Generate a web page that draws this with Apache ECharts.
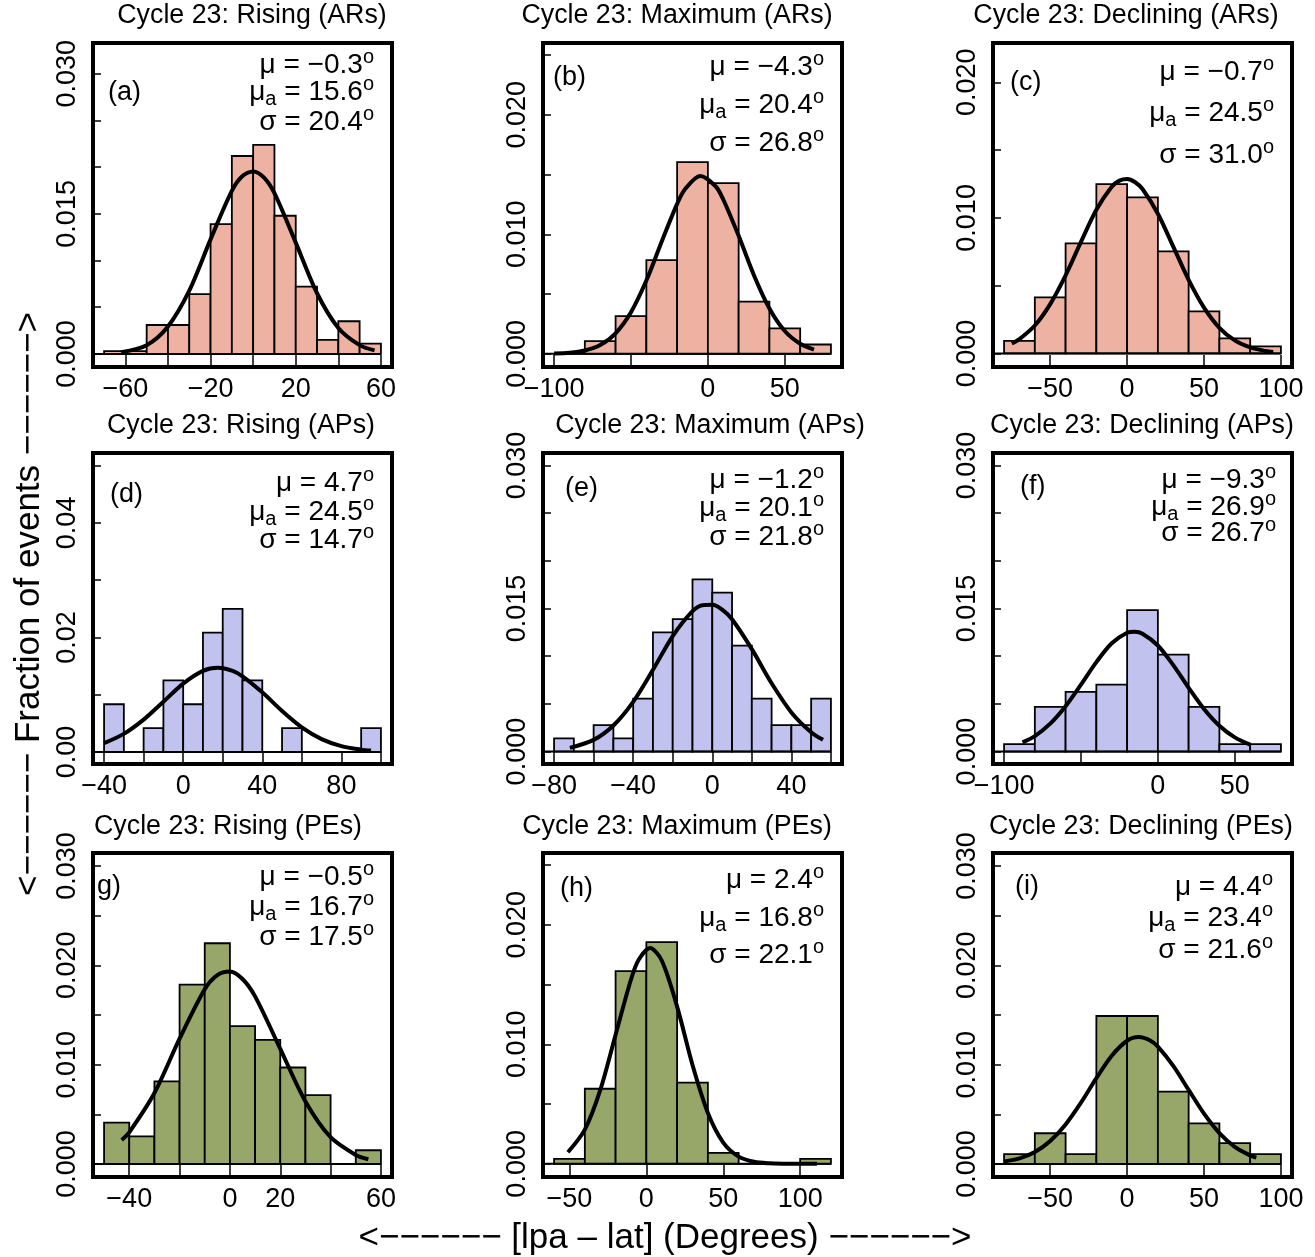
<!DOCTYPE html>
<html>
<head>
<meta charset="utf-8">
<script src="https://cdn.jsdelivr.net/npm/echarts@6/dist/echarts.min.js"></script>
<style>
  html, body { margin: 0; background: #fff; }
  #main { width: 1315px; height: 1257px; }
</style>
</head>
<body>
<div id="main"></div>
<script>
var chartDom = document.getElementById('main');
var myChart = echarts.init(chartDom);
var option;

var FONT = 'Liberation Sans, Arial, Helvetica, sans-serif';

// ---- panel texts ----
var titles = [
    'Cycle 23: Rising (ARs)', 'Cycle 23: Maximum (ARs)', 'Cycle 23: Declining (ARs)',
    'Cycle 23: Rising (APs)', 'Cycle 23: Maximum (APs)', 'Cycle 23: Declining (APs)',
    'Cycle 23: Rising (PEs)', 'Cycle 23: Maximum (PEs)', 'Cycle 23: Declining (PEs)'
];
var tags = ['(a)', '(b)', '(c)', '(d)', '(e)', '(f)', 'g)', '(h)', '(i)'];
var muVals = ['−0.3', '−4.3', '−0.7', '4.7', '−1.2', '−9.3', '−0.5', '2.4', '4.4'];
var muaVals = ['15.6', '20.4', '24.5', '24.5', '20.1', '26.9', '16.7', '16.8', '23.4'];
var sigmaVals = ['20.4', '26.8', '31.0', '14.7', '21.8', '26.7', '17.5', '22.1', '21.6'];

// ---- histogram bins (edges) and fractions ----
var edgesA = [-70, -60, -50, -40, -30, -20, -10, 0, 10, 20, 30, 40, 50, 60];
var fracA = [0.0003, 0.0003, 0.0031, 0.0031, 0.0064, 0.0139, 0.0212, 0.0224, 0.0148, 0.0072, 0.0015, 0.0035, 0.0011];
var edgesB = [-100, -80, -60, -40, -20, 0, 20, 40, 60, 80];
var fracB = [0, 0.00106, 0.00316, 0.00784, 0.01604, 0.01428, 0.00437, 0.00213, 0.00078];
var edgesC = [-80, -60, -40, -20, 0, 20, 40, 60, 80, 100];
var fracC = [0.00093, 0.00413, 0.00812, 0.01249, 0.01151, 0.00753, 0.0031, 0.00111, 0.00052];
var edgesD = [-40, -30, -20, -10, 0, 10, 20, 30, 40, 50, 60, 70, 80, 90, 100];
var fracD = [0.00833, 0, 0.00417, 0.0125, 0.00833, 0.02083, 0.025, 0.0125, 0, 0.00417, 0, 0, 0, 0.00417];
var edgesE = [-80, -70, -60, -50, -40, -30, -20, -10, 0, 10, 20, 30, 40, 50, 60];
var fracE = [0.00139, 0, 0.00278, 0.00139, 0.00556, 0.0125, 0.01389, 0.01806, 0.01667, 0.01111, 0.00556, 0.00278, 0.00278, 0.00556];
var edgesF = [-100, -80, -60, -40, -20, 0, 20, 40, 60, 80];
var fracF = [0.00078, 0.00469, 0.00625, 0.00703, 0.01484, 0.01016, 0.00469, 0.00078, 0.00078];
var edgesG = [-50, -40, -30, -20, -10, 0, 10, 20, 30, 40, 50, 60];
var fracG = [0.00417, 0.00278, 0.00833, 0.01806, 0.02222, 0.01389, 0.0125, 0.00972, 0.00694, 0, 0.00139];
var edgesH = [-60, -40, -20, 0, 20, 40, 60, 80, 100, 120];
var fracH = [0.00042, 0.00628, 0.01612, 0.01855, 0.00679, 0.00092, 0, 0, 0.00042];
var edgesI = [-80, -60, -40, -20, 0, 20, 40, 60, 80, 100];
var fracI = [0.001, 0.0031, 0.001, 0.0149, 0.0149, 0.0073, 0.0041, 0.0021, 0.001];

// ---- fitted curves ----
var curveXA = [-62, -50, -40, -30, -20, -10, -5, 0, 5, 10, 20, 30, 40, 50, 57];
var curveYA = [0.00018, 0.00094, 0.00294, 0.00678, 0.01227, 0.01747, 0.01905, 0.01955, 0.01891, 0.01722, 0.01192, 0.0065, 0.00278, 0.00094, 0.00038];
var curveXB = [-100, -90, -80, -70, -60, -50, -40, -30, -20, -15, -5, 5, 10, 20, 30, 40, 50, 60, 69];
var curveYB = [0.00003, 0.00009, 0.00028, 0.00074, 0.00172, 0.00348, 0.00613, 0.0094, 0.01254, 0.01375, 0.01488, 0.01402, 0.01291, 0.00987, 0.00656, 0.0038, 0.00191, 0.00084, 0.00035];
var curveXC = [-75, -70, -60, -50, -40, -30, -20, -10, -5, 0, 5, 10, 20, 30, 40, 50, 60, 70, 80, 90, 95];
var curveYC = [0.00073, 0.00106, 0.00206, 0.00364, 0.00576, 0.00823, 0.0106, 0.0123, 0.01275, 0.01287, 0.01265, 0.01213, 0.0103, 0.00788, 0.00543, 0.00338, 0.00189, 0.00096, 0.00044, 0.00018, 0.00011];
var curveXD = [-40, -30, -20, -10, 0, 10, 17.5, 25, 30, 40, 50, 60, 70, 80, 90, 95];
var curveYD = [0.00155, 0.00316, 0.00564, 0.00878, 0.01193, 0.01415, 0.0147, 0.01415, 0.01321, 0.01041, 0.00716, 0.0043, 0.00225, 0.00103, 0.00041, 0.00025];
var curveXE = [-72, -60, -50, -40, -30, -20, -10, -5, 0, 5, 10, 20, 30, 40, 50, 56];
var curveYE = [0.00039, 0.00123, 0.00274, 0.00522, 0.00857, 0.01211, 0.01472, 0.01535, 0.0154, 0.01489, 0.01387, 0.01074, 0.00716, 0.00411, 0.00203, 0.00123];
var curveXF = [-88, -80, -70, -60, -50, -40, -30, -20, -15, -10, 0, 10, 20, 30, 40, 50, 60];
var curveYF = [0.00097, 0.00163, 0.00293, 0.00476, 0.00702, 0.00938, 0.01135, 0.01245, 0.01256, 0.01236, 0.01112, 0.00906, 0.00669, 0.00447, 0.00271, 0.00149, 0.00074];
var curveXG = [-43, -40, -30, -20, -10, -5, 0, 5, 10, 20, 30, 40, 50, 55];
var curveYG = [0.00243, 0.0032, 0.00715, 0.01262, 0.0176, 0.01902, 0.01938, 0.01862, 0.01687, 0.0116, 0.0063, 0.0027, 0.00092, 0.00049];
var curveXH = [-51, -40, -30, -20, -10, -5, 2.4, 10, 20, 30, 40, 50, 60, 70, 80, 90, 111];
var curveYH = [0.00097, 0.00286, 0.00616, 0.0108, 0.01542, 0.01707, 0.01805, 0.01701, 0.01315, 0.00827, 0.00425, 0.00177, 0.0006, 0.00017, 0.00004, 0.00001, 0];
var curveXI = [-80, -70, -60, -50, -40, -30, -20, -10, 0, 7.6, 15, 20, 30, 40, 50, 60, 70, 80, 84];
var curveYI = [0.00026, 0.00058, 0.00122, 0.00233, 0.00399, 0.00618, 0.00864, 0.0109, 0.01241, 0.01278, 0.01243, 0.01181, 0.00988, 0.00746, 0.00508, 0.00312, 0.00173, 0.00087, 0.00064];

// ---- axis ticks and tick labels ----
var xTicksA = [-60, -40, -20, 0, 20, 40, 60], xLabelsA = [-60, -20, 20, 60];
var xTicksBF = [-100, -50, 0, 50], xLabelsBF = [-100, 0, 50];
var xTicksCHI = [-50, 0, 50, 100], xLabelsCHI = [-50, 0, 50, 100];
var xTicksD = [-40, -20, 0, 20, 40, 60, 80, 100], xLabelsD = [-40, 0, 40, 80];
var xTicksE = [-80, -60, -40, -20, 0, 20, 40, 60], xLabelsE = [-80, -40, 0, 40];
var xTicksG = [-40, -20, 0, 20, 40, 60], xLabelsG = [-40, 0, 20, 60];
var yTicks30 = [0, 0.005, 0.01, 0.015, 0.02, 0.025, 0.03];
var yTicks25 = [0, 0.005, 0.01, 0.015, 0.02, 0.025];
var yTicks20 = [0, 0.005, 0.01, 0.015, 0.02];
var yTicks05 = [0, 0.01, 0.02, 0.03, 0.04, 0.05];
var yLabels15 = [0, 0.015, 0.03];
var yLabels10 = [0, 0.01, 0.02];
var yLabels10b = [0, 0.01, 0.02, 0.03];
var yLabels20 = [0, 0.02, 0.04];

var salmon = '#EEB2A2', lavender = '#C1C2EE', olive = '#97A76A';

// layout of the nine boxes
var colLeft = [93, 543, 993];
var rowTop = [43, 453, 853];
var rowHeight = [324, 311, 324];
var boxWidth = 299;
var titleX = [252, 677, 1126, 241, 710, 1142, 228, 677, 1141];
var titleY = [16, 426, 827];
var tagPos = [[108, 93], [553, 78], [1010, 83], [110, 495], [565, 489], [1020, 487], [97, 887], [560, 889], [1015, 887]];
var annRight = [374, 824, 1274, 374, 824, 1276, 374, 824, 1273];
var annY = [[65, 92, 122], [67, 105, 143], [72, 113, 155], [483, 512, 540], [480, 508, 537],
            [480, 507, 533], [877, 907, 937], [880, 918, 955], [887, 918, 950]];

var panels = [
    { e: edgesA, f: fracA, cx: curveXA, cy: curveYA, xr: [-75.2, 65.2], yr: [-0.0014, 0.0333], xt: xTicksA, xl: xLabelsA, yt: yTicks30, yl: yLabels15, d: 3, c: salmon },
    { e: edgesB, f: fracB, cx: curveXB, cy: curveYB, xr: [-107.2, 87.2], yr: [-0.0011, 0.026], xt: xTicksBF, xl: xLabelsBF, yt: yTicks25, yl: yLabels10, d: 3, c: salmon },
    { e: edgesC, f: fracC, cx: curveXC, cy: curveYC, xr: [-87.2, 107.2], yr: [-0.001, 0.0229], xt: xTicksCHI, xl: xLabelsCHI, yt: yTicks20, yl: yLabels10, d: 3, c: salmon },
    { e: edgesD, f: fracD, cx: curveXD, cy: curveYD, xr: [-45.6, 105.6], yr: [-0.0021, 0.0522], xt: xTicksD, xl: xLabelsD, yt: yTicks05, yl: yLabels20, d: 2, c: lavender },
    { e: edgesE, f: fracE, cx: curveXE, cy: curveYE, xr: [-85.6, 65.6], yr: [-0.0013, 0.0313], xt: xTicksE, xl: xLabelsE, yt: yTicks30, yl: yLabels15, d: 3, c: lavender },
    { e: edgesF, f: fracF, cx: curveXF, cy: curveYF, xr: [-107.2, 87.2], yr: [-0.0013, 0.0313], xt: xTicksBF, xl: xLabelsBF, yt: yTicks30, yl: yLabels15, d: 3, c: lavender },
    { e: edgesG, f: fracG, cx: curveXG, cy: curveYG, xr: [-54.4, 64.4], yr: [-0.0013, 0.0313], xt: xTicksG, xl: xLabelsG, yt: yTicks30, yl: yLabels10b, d: 3, c: olive },
    { e: edgesH, f: fracH, cx: curveXH, cy: curveYH, xr: [-67.2, 127.2], yr: [-0.0011, 0.026], xt: xTicksCHI, xl: xLabelsCHI, yt: yTicks25, yl: yLabels10, d: 3, c: olive },
    { e: edgesI, f: fracI, cx: curveXI, cy: curveYI, xr: [-87.2, 107.2], yr: [-0.0013, 0.0313], xt: xTicksCHI, xl: xLabelsCHI, yt: yTicks30, yl: yLabels10b, d: 3, c: olive }
];

function minusSign(v) {
    return String(v).replace('-', '−');
}

var grids = [], xAxes = [], yAxes = [], series = [], graphics = [];

panels.forEach(function (p, i) {
    var col = i % 3, row = Math.floor(i / 3);
    grids.push({
        left: colLeft[col], top: rowTop[row], width: boxWidth, height: rowHeight[row],
        show: true, borderColor: '#000', borderWidth: 4, backgroundColor: 'transparent',
        containLabel: false, outerBoundsMode: 'none'
    });
    xAxes.push({
        gridIndex: i, type: 'value', min: p.xr[0], max: p.xr[1],
        axisLine: { show: false, onZero: false },
        axisTick: { show: true, inside: true, length: 12, customValues: p.xt, lineStyle: { color: '#000', width: 1.5 } },
        axisLabel: {
            show: true, customValues: p.xl, margin: 9, color: '#000',
            fontSize: 27, fontFamily: FONT, formatter: minusSign
        },
        splitLine: { show: false }
    });
    var dec = p.d;
    yAxes.push({
        gridIndex: i, type: 'value', min: p.yr[0], max: p.yr[1],
        axisLine: { show: false, onZero: false },
        axisTick: { show: true, inside: true, length: 8, customValues: p.yt, lineStyle: { color: '#000', width: 1.5 } },
        axisLabel: {
            show: true, customValues: p.yl, rotate: 90, margin: 12, color: '#000',
            fontSize: 27, fontFamily: FONT,
            formatter: function (v) { return Number(v).toFixed(dec); }
        },
        splitLine: { show: false }
    });

    var fill = p.c;
    series.push({
        type: 'custom', xAxisIndex: i, yAxisIndex: i, silent: true,
        data: p.f.map(function (v, k) { return [p.e[k], p.e[k + 1], v]; }),
        encode: { x: [0, 1], y: 2 },
        renderItem: function (params, api) {
            var topLeft = api.coord([api.value(0), api.value(2)]);
            var bottomRight = api.coord([api.value(1), 0]);
            return {
                type: 'rect',
                shape: { x: topLeft[0], y: topLeft[1], width: bottomRight[0] - topLeft[0], height: bottomRight[1] - topLeft[1] },
                style: { fill: fill, stroke: '#000', lineWidth: 1.8 }
            };
        }
    });
    // baseline under the histogram
    series.push({
        type: 'line', xAxisIndex: i, yAxisIndex: i, silent: true, symbol: 'none',
        data: [[p.xr[0], 0], [p.e[p.e.length - 1], 0]],
        lineStyle: { color: '#000', width: 2 }
    });
    series.push({
        type: 'line', xAxisIndex: i, yAxisIndex: i, silent: true, symbol: 'none', smooth: 0.3,
        data: p.cx.map(function (x, k) { return [x, p.cy[k]]; }),
        lineStyle: { color: '#000', width: 4 }
    });

    graphics.push({
        type: 'text', x: titleX[i], y: titleY[row],
        style: { text: titles[i], fill: '#000', fontSize: 26.8, fontFamily: FONT, align: 'center', verticalAlign: 'middle', textAlign: 'center', textVerticalAlign: 'middle' }
    });
    graphics.push({
        type: 'text', x: tagPos[i][0], y: tagPos[i][1],
        style: { text: tags[i], fill: '#000', fontSize: 27, fontFamily: FONT, align: 'left', verticalAlign: 'middle', textAlign: 'left', textVerticalAlign: 'middle' }
    });
    var lines = [
        'μ = ' + muVals[i] + '{s|o}',
        'μ{b|a} = ' + muaVals[i] + '{s|o}',
        'σ = ' + sigmaVals[i] + '{s|o}'
    ];
    lines.forEach(function (t, k) {
        graphics.push({
            type: 'text', x: annRight[i], y: annY[i][k],
            style: {
                text: t, fill: '#000', fontSize: 28, fontFamily: FONT, lineHeight: 35,
                align: 'right', verticalAlign: 'middle', textAlign: 'right', textVerticalAlign: 'middle',
                rich: {
                    s: { fontSize: 20, lineHeight: 20, verticalAlign: 'top', fontFamily: FONT, fill: '#000' },
                    b: { fontSize: 20, lineHeight: 20, verticalAlign: 'bottom', fontFamily: FONT, fill: '#000' }
                }
            }
        });
    });
});

graphics.push({
    type: 'text', x: 29, y: 604, rotation: Math.PI / 2,
    style: { text: '<−−−−−− Fraction of events −−−−−−>', fill: '#000', fontSize: 35, fontFamily: FONT, align: 'center', verticalAlign: 'middle', textAlign: 'center', textVerticalAlign: 'middle' }
});
graphics.push({
    type: 'text', x: 665, y: 1238,
    style: { text: '<−−−−−− [lpa – lat] (Degrees) −−−−−−>', fill: '#000', fontSize: 35, fontFamily: FONT, align: 'center', verticalAlign: 'middle', textAlign: 'center', textVerticalAlign: 'middle' }
});

option = {
    backgroundColor: '#fff',
    animation: false,
    grid: grids,
    xAxis: xAxes,
    yAxis: yAxes,
    series: series,
    graphic: graphics
};

option && myChart.setOption(option);
</script>
</body>
</html>
